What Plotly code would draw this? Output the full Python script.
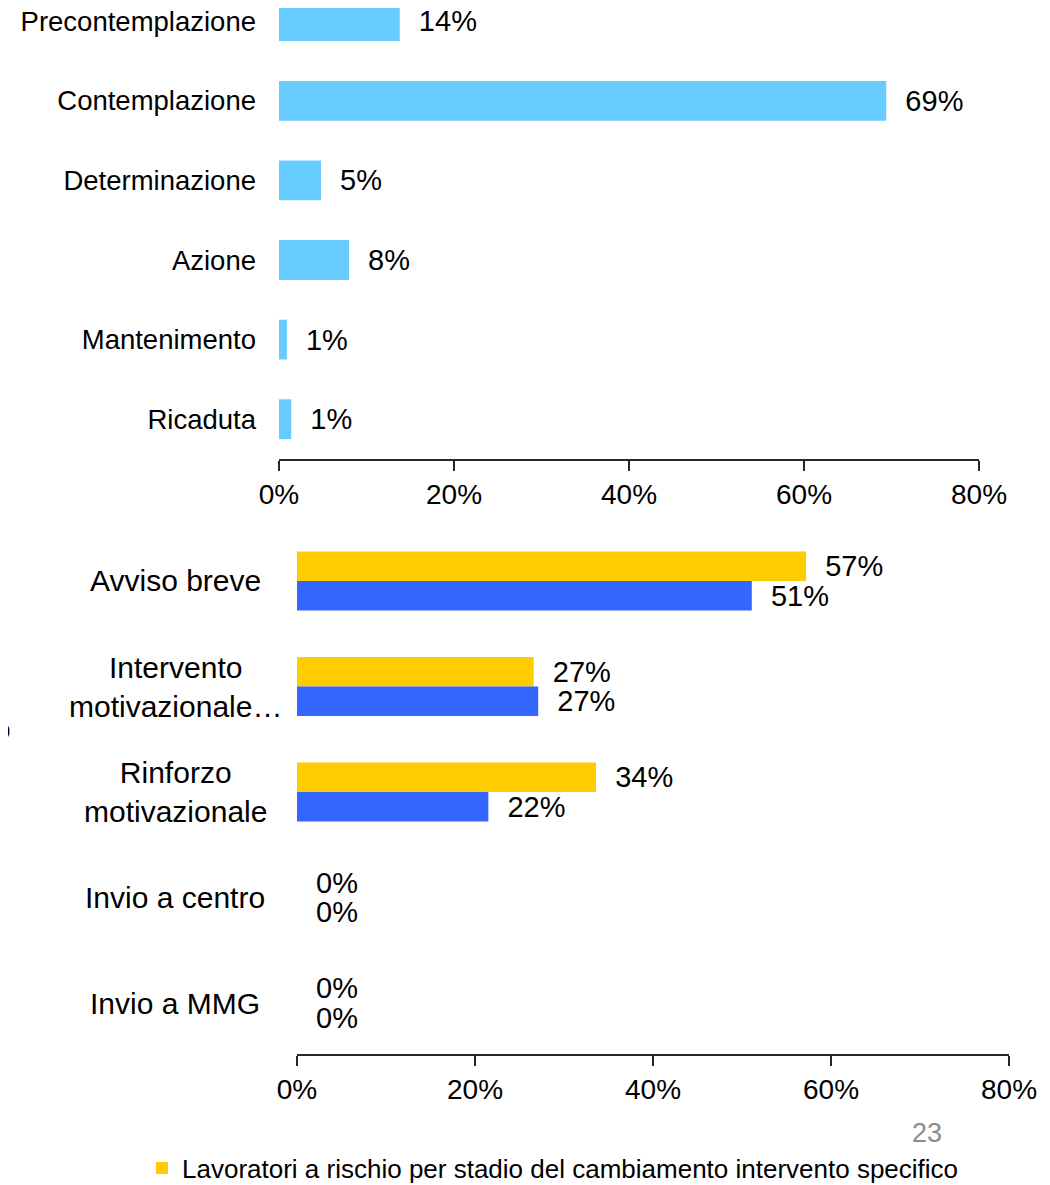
import plotly.graph_objects as go

# stadi del cambiamento (grafico in alto)
stadi = ["Precontemplazione", "Contemplazione", "Determinazione", "Azione", "Mantenimento", "Ricaduta"]
stadi_pct = [13.8, 69.4, 4.8, 8.0, 0.9, 1.4]

# interventi (grafico in basso)
interventi = ["Avviso breve", "Intervento<br>motivazionale…", "Rinforzo<br>motivazionale",
              "Invio a centro", "Invio a MMG"]
specifico_pct = [57.2, 26.6, 33.6, 0.0, 0.0]
altro_pct = [51.1, 27.1, 21.5, 0.0, 0.0]

nome_specifico = "Lavoratori a rischio per stadio del cambiamento intervento specifico"

# the page body has an 8px margin, so the figure is a bit smaller than the window
OFF = 8
W, H = 1050 - OFF, 1185 - OFF
FONT = "Arial, Liberation Sans, sans-serif"
label_tpl = "\u00a0\u00a0%{x:.0f}%"


def px(x):
    return (x - OFF) / W


def py(y):
    return 1 - (y - OFF) / H


fig = go.Figure()

fig.add_trace(go.Bar(
    x=stadi_pct, y=stadi, orientation="h", width=0.5,
    marker=dict(color="#66CCFF", line=dict(width=0)),
    texttemplate=label_tpl, textposition="outside", constraintext="none", cliponaxis=False,
    textfont=dict(size=29, color="black", family=FONT),
    xaxis="x", yaxis="y", showlegend=False, name="Stadio",
))

fig.add_trace(go.Bar(
    x=specifico_pct, y=interventi, orientation="h", width=0.28, offset=-0.28,
    marker=dict(color="#FFCC00", line=dict(width=0)),
    texttemplate=label_tpl, textposition="outside", constraintext="none", cliponaxis=False,
    textfont=dict(size=29, color="black", family=FONT),
    xaxis="x2", yaxis="y2", name=nome_specifico,
))
fig.add_trace(go.Bar(
    x=altro_pct, y=interventi, orientation="h", width=0.28, offset=0,
    marker=dict(color="#3366FF", line=dict(width=0)),
    texttemplate=label_tpl, textposition="outside", constraintext="none", cliponaxis=False,
    textfont=dict(size=29, color="black", family=FONT),
    xaxis="x2", yaxis="y2", showlegend=False, name="Lavoratori a rischio",
))

xaxis_style = dict(
    range=[0, 80], tick0=0, dtick=20, ticksuffix="%", showgrid=False, zeroline=False,
    showline=True, linecolor="#262626", linewidth=1.5, automargin=False,
    ticks="outside", ticklen=10, tickwidth=1.5, tickcolor="#262626",
    tickfont=dict(size=28, color="black", family=FONT),
)

fig.update_layout(
    width=W, height=H,
    margin=dict(l=0, r=0, t=0, b=0, autoexpand=False),
    paper_bgcolor="white", plot_bgcolor="white",
    barmode="overlay",
    xaxis=dict(domain=[px(279), px(979)], anchor="y", **xaxis_style),
    yaxis=dict(domain=[py(459), 1], anchor="x", type="category", automargin=False,
               range=[5.5, -0.166], showgrid=False, zeroline=False, showline=False,
               ticks="", ticklabelstandoff=22,
               tickfont=dict(size=27.5, color="black", family=FONT)),
    xaxis2=dict(domain=[px(297), px(1009)], anchor="y2", **xaxis_style),
    yaxis2=dict(domain=[py(1054), py(520)], anchor="x2", type="category", automargin=False,
                range=[4.483, -0.578], showgrid=False, zeroline=False, showline=False,
                ticks="", showticklabels=False),
    legend=dict(orientation="h", x=px(142), xanchor="left", y=py(1168), yanchor="middle",
                font=dict(size=26, color="black", family=FONT), bgcolor="rgba(0,0,0,0)"),
    font=dict(family=FONT),
)

# etichette delle categorie in basso, centrate su due righe
for cat in interventi:
    fig.add_annotation(x=px(175), xref="paper", y=cat, yref="y2", text=cat,
                       xanchor="center", yanchor="middle", align="center", showarrow=False,
                       font=dict(size=30, color="black", family=FONT))

# numero di pagina e resto del titolo tagliato a sinistra
fig.add_annotation(x=px(927), y=py(1133), xref="paper", yref="paper", text="23",
                   showarrow=False, xanchor="center", yanchor="middle",
                   font=dict(size=27, color="#8c8c8c", family="Liberation Sans Narrow, Arial"))
fig.add_annotation(x=0, y=py(730), xref="paper", yref="paper", text="o",
                   showarrow=False, xanchor="right", xshift=5, yanchor="middle",
                   font=dict(size=28, color="black", family=FONT))

fig.write_html("out.html")
